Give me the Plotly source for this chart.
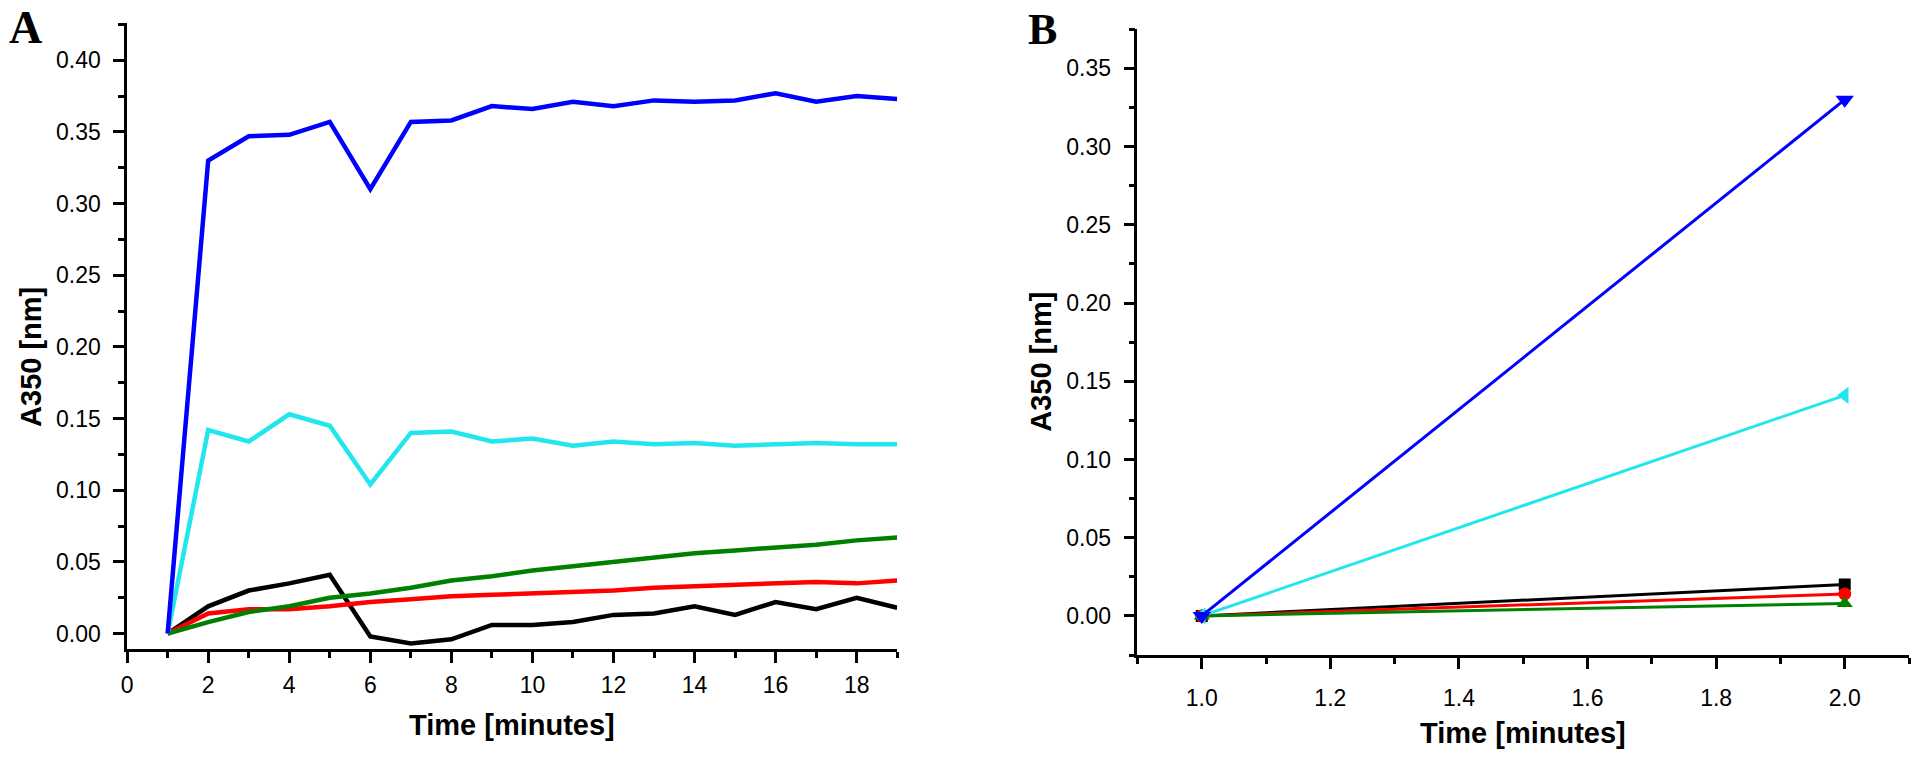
import plotly.graph_objects as go

# ---------------- Panel A data ----------------
time_a = list(range(1, 20))
blue_a = [0.0, 0.330, 0.347, 0.348, 0.357, 0.310, 0.357, 0.358, 0.368, 0.366,
          0.371, 0.368, 0.372, 0.371, 0.372, 0.377, 0.371, 0.375, 0.373]
cyan_a = [0.0, 0.142, 0.134, 0.153, 0.145, 0.104, 0.140, 0.141, 0.134, 0.136,
          0.131, 0.134, 0.132, 0.133, 0.131, 0.132, 0.133, 0.132, 0.132]
black_a = [0.0, 0.019, 0.030, 0.035, 0.041, -0.002, -0.007, -0.004, 0.006, 0.006,
           0.008, 0.013, 0.014, 0.019, 0.013, 0.022, 0.017, 0.025, 0.018]
red_a = [0.0, 0.014, 0.017, 0.017, 0.019, 0.022, 0.024, 0.026, 0.027, 0.028,
         0.029, 0.030, 0.032, 0.033, 0.034, 0.035, 0.036, 0.035, 0.037]
green_a = [0.0, 0.008, 0.015, 0.019, 0.025, 0.028, 0.032, 0.037, 0.040, 0.044,
           0.047, 0.050, 0.053, 0.056, 0.058, 0.060, 0.062, 0.065, 0.067]

# ---------------- Panel B data ----------------
time_b = [1.0, 2.0]
blue_b = [0.0, 0.330]
cyan_b = [0.0, 0.141]
black_b = [0.0, 0.020]
red_b = [0.0, 0.014]
green_b = [0.0, 0.008]

x_title = "Time [minutes]"
y_title = "A350 [nm]"

COL = dict(blue="#0000ff", cyan="#22e6ee", black="#000000", red="#ff0000", green="#008000")
FONT = "Liberation Sans, Arial, sans-serif"

fig = go.Figure()

# Panel A lines
for name, ys in [("black", black_a), ("red", red_a), ("green", green_a),
                 ("cyan", cyan_a), ("blue", blue_a)]:
    fig.add_trace(go.Scatter(x=time_a, y=ys, mode="lines", xaxis="x", yaxis="y",
                             line=dict(color=COL[name], width=4.5), showlegend=False))

# Panel B lines + markers
for name, ys, sym, ms in [("black", black_b, "square", 12), ("red", red_b, "circle", 13),
                          ("green", green_b, "triangle-up", 14), ("cyan", cyan_b, "triangle-left", 15),
                          ("blue", blue_b, "triangle-down", 16)]:
    fig.add_trace(go.Scatter(x=time_b, y=ys, mode="lines+markers", xaxis="x2", yaxis="y2",
                             line=dict(color=COL[name], width=3),
                             marker=dict(symbol=sym, size=ms, color=COL[name]),
                             showlegend=False))

W, H = 1920, 757

def ax_common():
    return dict(showline=True, linecolor="black", linewidth=2.5, mirror=False,
                showgrid=False, zeroline=False, ticks="outside", ticklen=11,
                tickwidth=2.5, tickcolor="black",
                tickfont=dict(family=FONT, size=23, color="black"))

xa = ax_common()
xa.update(domain=[121.5 / W, 894 / W], range=[0, 19], dtick=2, tick0=0, anchor="y",
          ticklabelstandoff=2,
          minor=dict(dtick=1, tick0=0, ticks="outside", ticklen=6, tickwidth=2.5,
                     tickcolor="black"))
ya = ax_common()
ya.update(domain=[1 - 649.3 / H, 1 - 23 / H], range=[-0.011, 0.426], dtick=0.05, tick0=0,
          tickformat=".2f", anchor="x", ticklabelstandoff=8,
          minor=dict(dtick=0.025, tick0=0, ticks="outside", ticklen=6, tickwidth=2.5,
                     tickcolor="black"))
xb = ax_common()
xb.update(domain=[1135 / W, 1909 / W], range=[0.9, 2.1], dtick=0.2, tick0=0, anchor="y2",
          tickformat=".1f", ticklabelstandoff=10,
          minor=dict(dtick=0.1, tick0=0, ticks="outside", ticklen=6, tickwidth=2.5,
                     tickcolor="black"))
yb = ax_common()
yb.update(domain=[1 - 655 / H, 1 - 29.3 / H], range=[-0.025, 0.375], dtick=0.05, tick0=0,
          tickformat=".2f", anchor="x2", ticklabelstandoff=8,
          minor=dict(dtick=0.025, tick0=0, ticks="outside", ticklen=6, tickwidth=2.5,
                     tickcolor="black"))

title_font = dict(family=FONT, size=29, color="black")
annotations = [
    dict(text="<b>A</b>", x=20 / W, y=1 - 27 / H, xref="paper", yref="paper",
         showarrow=False, xanchor="center", yanchor="middle",
         font=dict(family="Liberation Serif, Times New Roman, serif", size=46, color="black")),
    dict(text="<b>B</b>", x=1040 / W, y=1 - 29 / H, xref="paper", yref="paper",
         showarrow=False, xanchor="center", yanchor="middle",
         font=dict(family="Liberation Serif, Times New Roman, serif", size=44, color="black")),
    dict(text="<b>" + x_title + "</b>", x=507.7 / W, y=1 - 725 / H, xref="paper", yref="paper",
         showarrow=False, xanchor="center", yanchor="middle", font=title_font),
    dict(text="<b>" + x_title + "</b>", x=1522 / W, y=1 - 733 / H, xref="paper", yref="paper",
         showarrow=False, xanchor="center", yanchor="middle", font=title_font),
    dict(text="<b>" + y_title + "</b>", x=25 / W, y=1 - 357 / H, xref="paper", yref="paper",
         showarrow=False, xanchor="center", yanchor="middle", textangle=-90, font=title_font),
    dict(text="<b>" + y_title + "</b>", x=1038 / W, y=1 - 362 / H, xref="paper", yref="paper",
         showarrow=False, xanchor="center", yanchor="middle", textangle=-90, font=title_font),
]

fig.update_layout(width=W, height=H, autosize=False,
                  margin=dict(l=0, r=0, t=0, b=0, pad=0),
                  paper_bgcolor="white", plot_bgcolor="white",
                  xaxis=xa, yaxis=ya, xaxis2=xb, yaxis2=yb,
                  annotations=annotations)

fig.write_html("out.html", config={"displayModeBar": False},
               post_script="document.body.style.margin='0';document.body.style.overflow='hidden';")
